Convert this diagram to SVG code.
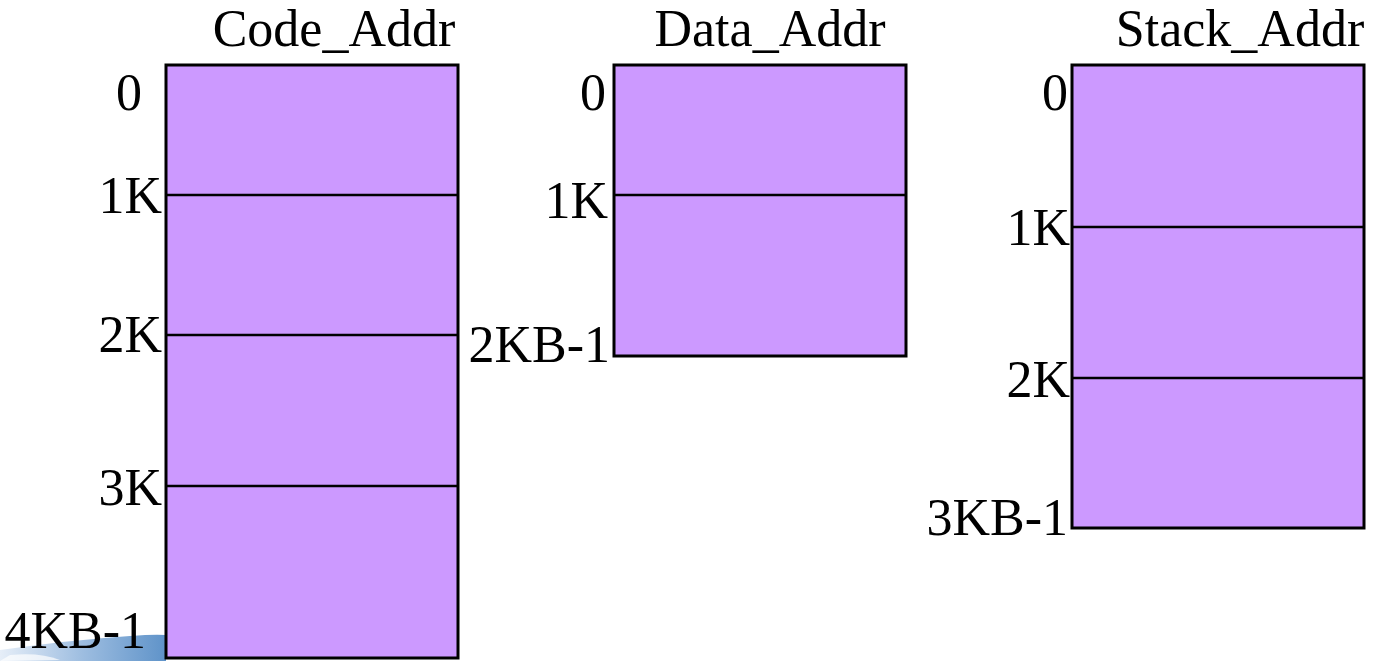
<svg xmlns="http://www.w3.org/2000/svg" width="1378" height="661" viewBox="0 0 1378 661">
<style>
.mem{fill:#CC99FF;stroke:#000;stroke-width:3}
.div{stroke:#000;stroke-width:2.5}
text{font-family:"Liberation Serif","Times New Roman",serif;font-size:52px;fill:#000}
.r{text-anchor:end}
.t{text-anchor:middle}
</style>
<defs>
<linearGradient id="sw" x1="0" y1="0" x2="1" y2="0">
<stop offset="0" stop-color="#e6eef8"/>
<stop offset="0.5" stop-color="#9dbde0"/>
<stop offset="1" stop-color="#5f93c9"/>
</linearGradient>
</defs>
<path d="M0,650 Q70,640 130,636 Q155,634 166,635 L166,661 L0,661 Z" fill="url(#sw)"/>
<path d="M10,655 Q40,652 60,660 L0,661 Z" fill="#ffffff" opacity="0.7"/>
<g id="code">
<rect class="mem" x="166" y="65" width="292" height="593"/>
<line class="div" x1="166" y1="195" x2="458" y2="195"/>
<line class="div" x1="166" y1="335" x2="458" y2="335"/>
<line class="div" x1="166" y1="486" x2="458" y2="486"/>
<text class="t" x="334" y="46">Code_Addr</text>
<text class="r" x="142" y="110">0</text>
<text class="r" x="162" y="213">1K</text>
<text class="r" x="162" y="352">2K</text>
<text class="r" x="162" y="505">3K</text>
<text class="r" x="146" y="648">4KB-1</text>
</g>
<g id="data">
<rect class="mem" x="614" y="65" width="292" height="291"/>
<line class="div" x1="614" y1="195" x2="906" y2="195"/>
<text class="t" x="770" y="46">Data_Addr</text>
<text class="r" x="606" y="110">0</text>
<text class="r" x="608" y="218">1K</text>
<text class="r" x="610" y="362">2KB-1</text>
</g>
<g id="stack">
<rect class="mem" x="1072" y="65" width="292" height="463"/>
<line class="div" x1="1072" y1="227" x2="1364" y2="227"/>
<line class="div" x1="1072" y1="378" x2="1364" y2="378"/>
<text class="t" x="1240" y="46">Stack_Addr</text>
<text class="r" x="1068" y="110">0</text>
<text class="r" x="1070" y="245">1K</text>
<text class="r" x="1070" y="397">2K</text>
<text class="r" x="1068" y="535">3KB-1</text>
</g>
<g id="connectors"></g>
</svg>
